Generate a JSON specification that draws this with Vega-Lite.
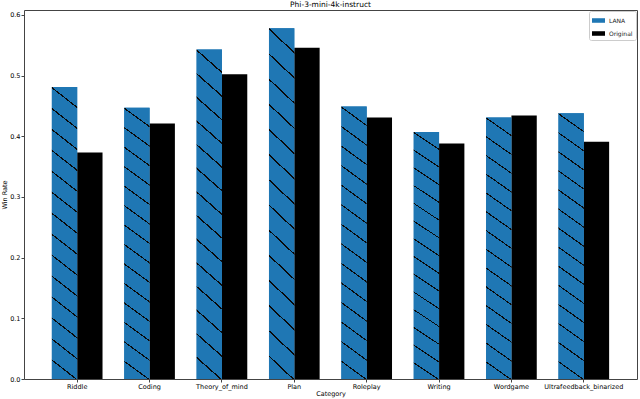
{
  "$schema": "https://vega.github.io/schema/vega-lite/v6.json",
  "width": 613,
  "height": 369,
  "autosize": {"type": "none"},
  "padding": {"left": 24, "top": 10, "right": 3, "bottom": 20},
  "background": "white",
  "config": {
    "font": "DejaVu Sans",
    "view": {"stroke": "#444", "strokeWidth": 1},
    "axis": {
      "domain": false,
      "grid": false,
      "tickColor": "#444",
      "tickSize": 3,
      "labelFontSize": 6.5,
      "labelColor": "#000",
      "titleFontSize": 6.5,
      "titleFontWeight": "normal",
      "titleColor": "#000",
      "labelPadding": 1
    },
    "legend": {
      "orient": "top-right",
      "offset": 1,
      "padding": 3,
      "strokeColor": "#cccccc",
      "fillColor": "white",
      "cornerRadius": 2,
      "labelFontSize": 6,
      "labelColor": "#222",
      "labelOffset": 4,
      "symbolType": "M-1,-0.35H1V0.35H-1Z",
      "symbolSize": 169,
      "symbolStrokeWidth": 0,
      "rowPadding": 3
    }
  },
  "title": {
    "text": "Phi-3-mini-4k-instruct",
    "fontSize": 7.5,
    "fontWeight": "normal",
    "offset": 2,
    "anchor": "middle",
    "color": "#000"
  },
  "data": {
    "values": [
      {"category": "Riddle", "model": "LANA", "winrate": 0.481},
      {"category": "Riddle", "model": "Original", "winrate": 0.373},
      {"category": "Coding", "model": "LANA", "winrate": 0.447},
      {"category": "Coding", "model": "Original", "winrate": 0.421},
      {"category": "Theory_of_mind", "model": "LANA", "winrate": 0.543},
      {"category": "Theory_of_mind", "model": "Original", "winrate": 0.502},
      {"category": "Plan", "model": "LANA", "winrate": 0.578},
      {"category": "Plan", "model": "Original", "winrate": 0.546},
      {"category": "Roleplay", "model": "LANA", "winrate": 0.449},
      {"category": "Roleplay", "model": "Original", "winrate": 0.431},
      {"category": "Writing", "model": "LANA", "winrate": 0.407},
      {"category": "Writing", "model": "Original", "winrate": 0.388},
      {"category": "Wordgame", "model": "LANA", "winrate": 0.431},
      {"category": "Wordgame", "model": "Original", "winrate": 0.434},
      {"category": "Ultrafeedback_binarized", "model": "LANA", "winrate": 0.438},
      {"category": "Ultrafeedback_binarized", "model": "Original", "winrate": 0.391}
    ]
  },
  "encoding": {
    "x": {
      "field": "category",
      "type": "nominal",
      "sort": null,
      "title": "Category",
      "scale": {"paddingInner": 0.3, "paddingOuter": 0.385},
      "axis": {"labelAngle": 0, "titlePadding": 1}
    },
    "xOffset": {
      "field": "model",
      "type": "nominal",
      "scale": {"domain": ["LANA", "Original"], "paddingInner": 0, "paddingOuter": 0}
    },
    "y": {
      "field": "winrate",
      "type": "quantitative",
      "title": "Win Rate",
      "scale": {"domain": [0, 0.608], "nice": false, "zero": true},
      "axis": {"values": [0, 0.1, 0.2, 0.3, 0.4, 0.5, 0.6], "format": ".1f", "titlePadding": 2}
    }
  },
  "layer": [
    {
      "mark": {"type": "bar", "cornerRadius": 0},
      "encoding": {
        "color": {
          "field": "model",
          "type": "nominal",
          "scale": {"domain": ["LANA", "Original"], "range": ["#1f77b4", "#000000"]},
          "legend": {"title": null}
        }
      }
    },
    {
      "transform": [{"filter": "datum.model === 'LANA'"}],
      "mark": {
        "type": "bar",
        "cornerRadius": 0,
        "fill": {
          "gradient": "linear",
          "x1": 0.068, "y1": 0, "x2": 0, "y2": 1,
          "stops": [
            {"offset": 0, "color": "#1f77b4"}, {"offset": 0.004, "color": "#1f77b4"}, {"offset": 0.004, "color": "#0a0a0a"}, {"offset": 0.009, "color": "#0a0a0a"},
            {"offset": 0.009, "color": "#1f77b4"}, {"offset": 0.0754, "color": "#1f77b4"}, {"offset": 0.0754, "color": "#0a0a0a"}, {"offset": 0.0804, "color": "#0a0a0a"},
            {"offset": 0.0804, "color": "#1f77b4"}, {"offset": 0.1469, "color": "#1f77b4"}, {"offset": 0.1469, "color": "#0a0a0a"}, {"offset": 0.1519, "color": "#0a0a0a"},
            {"offset": 0.1519, "color": "#1f77b4"}, {"offset": 0.2183, "color": "#1f77b4"}, {"offset": 0.2183, "color": "#0a0a0a"}, {"offset": 0.2233, "color": "#0a0a0a"},
            {"offset": 0.2233, "color": "#1f77b4"}, {"offset": 0.2897, "color": "#1f77b4"}, {"offset": 0.2897, "color": "#0a0a0a"}, {"offset": 0.2947, "color": "#0a0a0a"},
            {"offset": 0.2947, "color": "#1f77b4"}, {"offset": 0.3611, "color": "#1f77b4"}, {"offset": 0.3611, "color": "#0a0a0a"}, {"offset": 0.3661, "color": "#0a0a0a"},
            {"offset": 0.3661, "color": "#1f77b4"}, {"offset": 0.4326, "color": "#1f77b4"}, {"offset": 0.4326, "color": "#0a0a0a"}, {"offset": 0.4376, "color": "#0a0a0a"},
            {"offset": 0.4376, "color": "#1f77b4"}, {"offset": 0.504, "color": "#1f77b4"}, {"offset": 0.504, "color": "#0a0a0a"}, {"offset": 0.509, "color": "#0a0a0a"},
            {"offset": 0.509, "color": "#1f77b4"}, {"offset": 0.5754, "color": "#1f77b4"}, {"offset": 0.5754, "color": "#0a0a0a"}, {"offset": 0.5804, "color": "#0a0a0a"},
            {"offset": 0.5804, "color": "#1f77b4"}, {"offset": 0.6469, "color": "#1f77b4"}, {"offset": 0.6469, "color": "#0a0a0a"}, {"offset": 0.6519, "color": "#0a0a0a"},
            {"offset": 0.6519, "color": "#1f77b4"}, {"offset": 0.7183, "color": "#1f77b4"}, {"offset": 0.7183, "color": "#0a0a0a"}, {"offset": 0.7233, "color": "#0a0a0a"},
            {"offset": 0.7233, "color": "#1f77b4"}, {"offset": 0.7897, "color": "#1f77b4"}, {"offset": 0.7897, "color": "#0a0a0a"}, {"offset": 0.7947, "color": "#0a0a0a"},
            {"offset": 0.7947, "color": "#1f77b4"}, {"offset": 0.8611, "color": "#1f77b4"}, {"offset": 0.8611, "color": "#0a0a0a"}, {"offset": 0.8661, "color": "#0a0a0a"},
            {"offset": 0.8661, "color": "#1f77b4"}, {"offset": 0.9326, "color": "#1f77b4"}, {"offset": 0.9326, "color": "#0a0a0a"}, {"offset": 0.9376, "color": "#0a0a0a"},
            {"offset": 0.9376, "color": "#1f77b4"}, {"offset": 1, "color": "#1f77b4"}
          ]
        }
      }
    }
  ]
}
